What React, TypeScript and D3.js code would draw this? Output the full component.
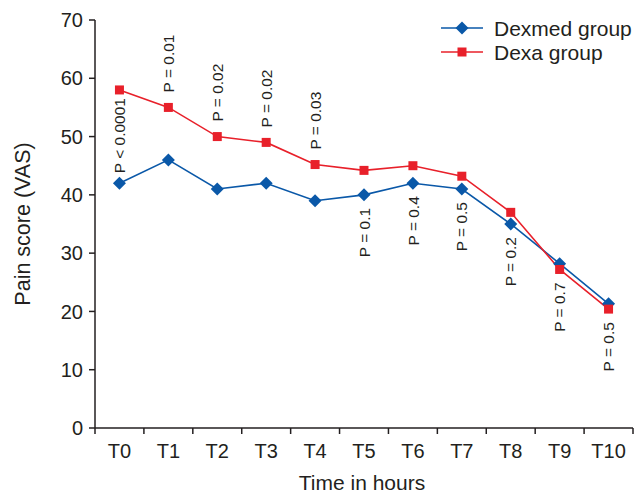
import React from "react";
import * as d3 from "d3";

const categories = ["T0", "T1", "T2", "T3", "T4", "T5", "T6", "T7", "T8", "T9", "T10"];
const dexmedValues = [42, 46, 41, 42, 39, 40, 42, 41, 35, 28.2, 21.3];
const dexaValues = [58, 55, 50, 49, 45.2, 44.2, 45, 43.2, 37, 27.2, 20.4];
const pLabels = ["P < 0.0001", "P = 0.01", "P = 0.02", "P = 0.02", "P = 0.03", "P = 0.1", "P = 0.4", "P = 0.5", "P = 0.2", "P = 0.7", "P = 0.5"];
const pPlacement = ["mid", "above", "above", "above", "above", "below", "below", "below", "below", "below", "below"];
const yTicks = [0, 10, 20, 30, 40, 50, 60, 70];
const seriesNames = ["Dexmed group", "Dexa group"];

const W = 635;
const H = 494;
const FONT = "'Liberation Sans', Arial, Helvetica, sans-serif";
const BLUE = "#0a58a8";
const RED = "#e8202a";
const AXIS = "#231f20";

export default function App() {
  const left = 95;
  const right = 633;
  const top = 20;
  const bottom = 428;

  const x = d3.scaleBand<string>().domain(categories).range([left, right]).paddingInner(0).paddingOuter(0);
  const y = d3.scaleLinear().domain([0, 70]).range([bottom, top]);
  const cx = (i: number) => (x(categories[i]) as number) + x.bandwidth() / 2;

  const line = d3
    .line<number>()
    .x((_, i) => cx(i))
    .y((d) => y(d));

  const diamond = (px: number, py: number, r: number) =>
    `M${px},${py - r}L${px + r},${py}L${px},${py + r}L${px - r},${py}Z`;

  const boundaries = categories.map((c) => x(c) as number).concat([right]);

  return (
    <svg width={W} height={H} style={{ position: "absolute", left: 0, top: 0 }} fontFamily={FONT}>
      <rect width={W} height={H} fill="#fff" />
      {/* y axis */}
      <line x1={left} x2={left} y1={top} y2={bottom} stroke={AXIS} strokeWidth={1.5} />
      {yTicks.map((t) => (
        <g key={t}>
          <line x1={left - 6} x2={left} y1={y(t)} y2={y(t)} stroke={AXIS} strokeWidth={1.5} />
          <text x={left - 12} y={y(t)} dy="0.36em" textAnchor="end" fontSize={20} fill={AXIS}>
            {t}
          </text>
        </g>
      ))}
      {/* x axis */}
      <line x1={left} x2={right} y1={bottom} y2={bottom} stroke={AXIS} strokeWidth={1.5} />
      {boundaries.map((b, i) => (
        <line key={i} x1={b} x2={b} y1={bottom} y2={bottom + 6} stroke={AXIS} strokeWidth={1.5} />
      ))}
      {categories.map((c, i) => (
        <text key={c} x={cx(i)} y={458} textAnchor="middle" fontSize={20} fill={AXIS}>
          {c}
        </text>
      ))}
      <text x={(left + right) / 2 - 2} y={490} textAnchor="middle" fontSize={21} fill={AXIS}>
        Time in hours
      </text>
      <text
        transform={`translate(30, 224) rotate(-90)`}
        textAnchor="middle"
        fontSize={21.5}
        fill={AXIS}
      >
        Pain score (VAS)
      </text>

      {/* lines */}
      <path d={line(dexmedValues) || ""} fill="none" stroke={BLUE} strokeWidth={1.6} />
      <path d={line(dexaValues) || ""} fill="none" stroke={RED} strokeWidth={1.6} />
      {dexmedValues.map((v, i) => (
        <path key={i} d={diamond(cx(i), y(v), 6.5)} fill={BLUE} />
      ))}
      {dexaValues.map((v, i) => (
        <rect key={i} x={cx(i) - 4.5} y={y(v) - 4.5} width={9} height={9} fill={RED} />
      ))}

      {/* p-value annotations */}
      {pLabels.map((p, i) => {
        const hi = Math.max(dexmedValues[i], dexaValues[i]);
        const lo = Math.min(dexmedValues[i], dexaValues[i]);
        const place = pPlacement[i];
        let ty: number;
        let anchor: "start" | "end";
        if (place === "above") {
          ty = y(hi) - 15;
          anchor = "start";
        } else if (place === "mid") {
          ty = y(lo) - 10;
          anchor = "start";
        } else {
          ty = y(lo) + 13;
          anchor = "end";
        }
        return (
          <text
            key={i}
            transform={`translate(${cx(i)}, ${ty}) rotate(-90)`}
            textAnchor={anchor}
            dy="0.36em"
            fontSize={15.5}
            fill={AXIS}
          >
            {p}
          </text>
        );
      })}

      {/* legend */}
      {seriesNames.map((name, i) => {
        const ly = 28 + i * 24;
        return (
          <g key={name}>
            <line x1={441} x2={483} y1={ly} y2={ly} stroke={i === 0 ? BLUE : RED} strokeWidth={1.6} />
            {i === 0 ? (
              <path d={diamond(462, ly, 6.5)} fill={BLUE} />
            ) : (
              <rect x={462 - 4.5} y={ly - 4.5} width={9} height={9} fill={RED} />
            )}
            <text x={494} y={ly} dy="0.36em" fontSize={21} fill={AXIS}>
              {name}
            </text>
          </g>
        );
      })}
    </svg>
  );
}
